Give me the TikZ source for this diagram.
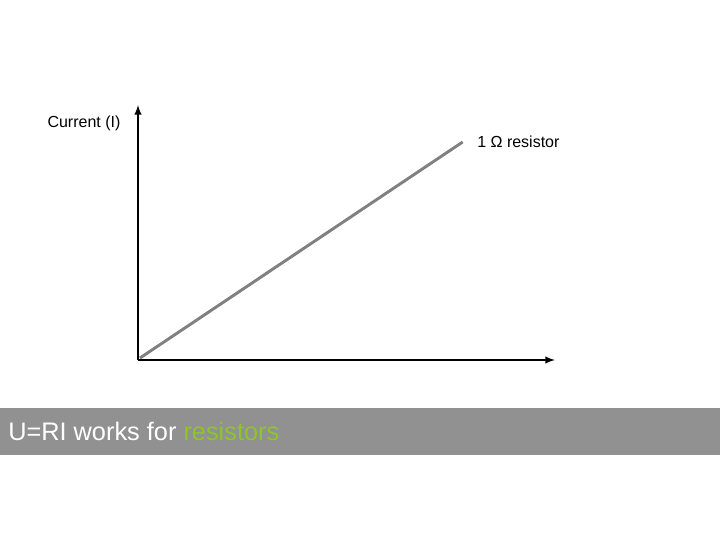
\documentclass[tikz,border=0pt]{standalone}
\usepackage{fontspec}
\setmainfont{Liberation Sans}
\usepackage{xcolor}
\definecolor{bannergray}{RGB}{145,145,145}
\definecolor{linegray}{RGB}{128,128,128}
\definecolor{leafgreen}{RGB}{140,198,40}
\begin{document}
\begin{tikzpicture}[x=0.75pt,y=0.75pt,yscale=-1,xscale=1]
\useasboundingbox (0,0) rectangle (720,540);
%Axes
\coordinate (origin) at (138,360);
\coordinate (ytip) at (138,105);
\coordinate (xtip) at (555,360);
\draw [line width=1.5, -latex] (origin) -- (ytip);
\draw [line width=1.5, -latex] (origin) -- (xtip);
%Straight Lines
\coordinate (lstart) at (140,358);
\node [anchor=west, inner sep=0.75pt, font=\fontsize{12}{14}\selectfont] (res) at (476,142) {1 Ω resistor};
\draw [color=linegray, line width=2.2] (lstart) -- ([xshift=-10pt]res.west);
% Text Node
\node [inner sep=0.75pt, font=\fontsize{12}{14}\selectfont] (cur) at (84,123) {Current (I)};
%Banner
\fill [bannergray] (0,408) rectangle (720,455);
\node [anchor=west, inner sep=0.75pt, text=white, font=\fontsize{19}{22}\selectfont] (title) at (7,431) {U=RI works for \textcolor{leafgreen}{resistors}};
\end{tikzpicture}
\end{document}
